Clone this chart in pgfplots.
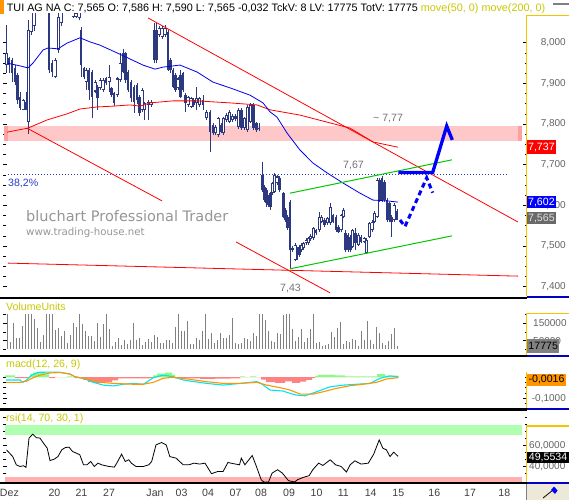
\documentclass[border=0pt]{standalone}
\usepackage{fontspec}
\setmainfont{Liberation Sans}
\newfontfamily\dejavu{DejaVu Sans}
\usepackage{pgfplots}
\usepackage{pgfplotstable}
\pgfplotsset{compat=1.18}

\definecolor{candle}{RGB}{44,57,128}
\definecolor{maBlue}{RGB}{0,0,235}
\definecolor{trend}{RGB}{255,0,0}
\definecolor{chan}{RGB}{0,200,0}
\definecolor{pinkband}{RGB}{255,200,200}
\definecolor{pinkdark}{RGB}{255,160,160}
\definecolor{fibo}{RGB}{40,60,200}
\definecolor{lblgray}{RGB}{115,115,115}
\definecolor{wm}{RGB}{150,150,150}
\definecolor{ylw}{RGB}{200,200,0}
\definecolor{frameyl}{RGB}{245,195,0}
\definecolor{framebl}{RGB}{0,0,200}
\definecolor{volgray}{RGB}{128,128,128}
\definecolor{mcyan}{RGB}{0,230,240}
\definecolor{morange}{RGB}{255,150,0}
\definecolor{hgreen}{RGB}{130,255,130}
\definecolor{hred}{RGB}{255,130,130}
\definecolor{rsigreen}{RGB}{176,255,176}
\definecolor{rsired}{RGB}{255,176,176}
\definecolor{tickgray}{RGB}{100,100,100}
\definecolor{xlbl}{RGB}{64,64,64}
\definecolor{boxgray}{RGB}{105,105,105}
\definecolor{iconbg}{RGB}{236,233,216}

\newcommand{\ff}{\fontsize{10.6}{12.5}\selectfont}
\newcommand{\tf}{\fontsize{10}{12}\selectfont}

% filled (falling) candles: x low high bodybottom bodytop
\pgfplotstableread{
x lo hi bb bt
9 7.925 7.966 7.945 7.962
12 7.904 7.962 7.925 7.957
15 7.895 7.945 7.904 7.937
17.5 7.850 7.925 7.859 7.921
20 7.835 7.880 7.839 7.867
26 7.835 7.880 7.835 7.855
49 7.925 8.100 7.933 8.080
52 7.916 7.957 7.929 7.949
81 7.916 8.039 7.945 8.031
84 7.910 7.940 7.916 7.937
89 7.859 7.937 7.884 7.933
92 7.814 7.933 7.867 7.929
97.5 7.835 7.896 7.863 7.892
106 7.896 7.916 7.900 7.912
111.5 7.867 7.892 7.871 7.888
114 7.845 7.880 7.851 7.876
123 7.925 7.985 7.929 7.974
125.5 7.900 7.978 7.908 7.974
128 7.878 7.933 7.884 7.929
131 7.855 7.908 7.863 7.904
134 7.827 7.896 7.855 7.892
137 7.850 7.900 7.859 7.896
139.5 7.820 7.871 7.826 7.867
154 7.950 8.048 7.957 8.031
156.5 7.950 8.048 7.957 8.031
168 7.930 8.031 7.933 8.027
170.5 7.925 7.962 7.933 7.957
173 7.888 7.937 7.892 7.933
175.5 7.880 7.925 7.884 7.921
180.5 7.863 7.933 7.867 7.921
183 7.880 7.929 7.884 7.925
185.5 7.830 7.876 7.851 7.871
193.5 7.843 7.863 7.847 7.859
203 7.835 7.871 7.847 7.859
210 7.732 7.835 7.781 7.830
213 7.773 7.802 7.777 7.798
221 7.777 7.802 7.781 7.798
235.5 7.808 7.824 7.812 7.820
241.5 7.786 7.839 7.790 7.835
253.5 7.786 7.851 7.790 7.847
256.5 7.781 7.806 7.785 7.802
259 7.783 7.802 7.787 7.790
262.3 7.634 7.707 7.638 7.675
264.5 7.609 7.650 7.613 7.646
266.5 7.597 7.642 7.605 7.638
268.5 7.597 7.625 7.601 7.621
270.5 7.589 7.634 7.597 7.630
279.5 7.634 7.671 7.638 7.667
283.3 7.568 7.634 7.572 7.630
285.5 7.560 7.593 7.564 7.589
287.5 7.540 7.576 7.544 7.572
290 7.445 7.613 7.490 7.609
292.5 7.486 7.499 7.490 7.495
297 7.466 7.498 7.470 7.494
299.3 7.474 7.503 7.478 7.498
316 7.527 7.543 7.531 7.539
324.7 7.548 7.568 7.552 7.564
333 7.556 7.580 7.560 7.576
336 7.535 7.576 7.539 7.572
338.5 7.531 7.552 7.535 7.548
345.5 7.486 7.539 7.490 7.531
348 7.486 7.531 7.490 7.527
350.3 7.486 7.527 7.490 7.523
355.7 7.490 7.544 7.507 7.531
361 7.507 7.527 7.511 7.523
379.5 7.609 7.667 7.613 7.662
382 7.609 7.671 7.613 7.667
384.5 7.609 7.662 7.613 7.658
387 7.560 7.617 7.564 7.613
389.5 7.560 7.609 7.564 7.605
391.7 7.523 7.576 7.560 7.572
397 7.565 7.590 7.565 7.586
}\candF

% hollow (rising) candles
\pgfplotstableread{
x lo hi bb bt
6.7 7.925 8.044 7.945 7.974
23 7.835 7.862 7.835 7.859
28.5 7.776 8.056 7.806 8.031
31 8.020 8.090 8.027 8.080
34 8.030 8.100 8.040 8.090
55 7.912 7.962 7.916 7.957
58.5 7.975 8.090 7.982 8.064
61 8.040 8.100 8.048 8.090
73 8.060 8.090 8.064 8.080
76 8.060 8.080 8.064 8.072
79 8.055 8.090 8.060 8.080
86 7.884 7.937 7.904 7.933
95 7.876 7.908 7.880 7.904
100 7.884 7.912 7.888 7.908
103 7.880 7.912 7.884 7.908
109 7.880 7.945 7.904 7.916
117 7.867 7.916 7.871 7.912
120 7.904 7.974 7.908 7.949
142 7.830 7.888 7.835 7.884
144.5 7.810 7.855 7.835 7.851
148 7.810 7.859 7.847 7.855
151 7.843 7.859 7.847 7.855
159 8.015 8.040 8.019 8.035
162 8.010 8.040 8.015 8.035
165 8.015 8.044 8.019 8.035
178 7.884 7.916 7.888 7.912
188 7.843 7.870 7.847 7.866
191 7.839 7.867 7.843 7.863
196.5 7.835 7.892 7.851 7.863
199.5 7.843 7.867 7.847 7.863
206.5 7.810 7.835 7.814 7.830
215.5 7.773 7.798 7.777 7.793
218 7.769 7.818 7.773 7.814
223.5 7.773 7.818 7.777 7.814
226.5 7.806 7.826 7.810 7.822
229.5 7.802 7.835 7.806 7.830
232.5 7.806 7.824 7.810 7.820
238.5 7.789 7.839 7.793 7.835
244.5 7.786 7.818 7.790 7.814
247.5 7.781 7.847 7.785 7.843
250.5 7.802 7.851 7.806 7.847
272.3 7.626 7.658 7.630 7.654
274.5 7.630 7.679 7.634 7.675
277 7.650 7.675 7.654 7.671
295 7.462 7.507 7.466 7.503
301.3 7.486 7.507 7.490 7.503
303.7 7.490 7.511 7.494 7.507
306 7.503 7.519 7.507 7.515
308.3 7.503 7.523 7.507 7.519
310.5 7.513 7.529 7.517 7.525
313.3 7.515 7.548 7.519 7.544
319.3 7.535 7.584 7.539 7.572
321.7 7.556 7.576 7.560 7.572
327.7 7.552 7.572 7.556 7.568
330.3 7.552 7.606 7.556 7.597
341 7.535 7.580 7.539 7.576
343.3 7.568 7.593 7.572 7.589
352.7 7.494 7.543 7.498 7.539
358.3 7.499 7.531 7.503 7.527
364 7.507 7.523 7.511 7.519
366.7 7.480 7.519 7.484 7.515
369.7 7.519 7.560 7.523 7.556
372 7.535 7.564 7.539 7.560
374.3 7.556 7.585 7.560 7.581
377 7.568 7.667 7.572 7.662
394 7.560 7.605 7.564 7.601
}\candH

\pgfplotsset{
  panel/.style={
    scale only axis, anchor=north west, width=524pt,
    xmin=3, xmax=527,
    axis line style={draw=none},
    xtick=\empty,
    tick align=inside,
    major tick length=4pt, minor tick length=2.5pt,
    every tick/.style={black, line width=0.7pt},
    yticklabel pos=right,
    /pgf/number format/assume math mode=true,
    scaled y ticks=false,
  }
}

\begin{document}
\begin{tikzpicture}
\useasboundingbox (0,0) rectangle (569pt,-500pt);
\fill[white] (0,0) rectangle (569pt,-500pt);

% title bar
\fill[morange] (0,0) rectangle (4.4pt,-14pt);
\draw[gray, line width=2pt] (553pt,-4.5pt) -- (569pt,-4.5pt);
\node[anchor=base west, inner sep=0pt, font=\fontsize{10.8}{12.5}\selectfont] at (6.7pt,-11.7pt)
  {TUI AG NA C: 7,565 O: 7,586 H: 7,590 L: 7,565 -0,032 TckV: 8 LV: 17775 TotV: 17775 \textcolor{ylw}{move(50, 0) move(200, 0)}};

% watermark
\node[anchor=base west, inner sep=0pt, text=wm, font=\dejavu\fontsize{14.5}{16}\selectfont] at (26pt,-221.7pt) {bluchart Professional Trader};
\node[anchor=base west, inner sep=0pt, text=wm, font=\dejavu\fontsize{10.2}{12}\selectfont] at (26pt,-235pt) {www.trading-house.net};

% ================= main price panel =================
\begin{axis}[panel, at={(3pt,-14pt)}, height=282.5pt,
  ymin=7.3759, ymax=8.0706,
  ytick={7.4,7.5,7.6,7.7,7.8,7.9,8.0}, minor y tick num=3,
  y tick label style={font=\tf, text=tickgray, inner sep=0pt, anchor=east, xshift=39pt,
    /pgf/number format/.cd, fixed, fixed zerofill, precision=3, use comma}]
  \fill[pinkband] (axis cs:4,7.759) rectangle (axis cs:521.7,7.795);
  \fill[pinkdark] (axis cs:4,7.759) rectangle (axis cs:8.3,7.795);
  \fill[pinkdark] (axis cs:517.7,7.759) rectangle (axis cs:521.7,7.795);
  % candles
  \addplot[candle, line width=0.9pt, quiver={u=0, v=\thisrow{hi}-\thisrow{lo}}] table[x=x, y=lo] {\candF};
  \addplot[candle, line width=0.9pt, quiver={u=0, v=\thisrow{hi}-\thisrow{lo}}] table[x=x, y=lo] {\candH};
  \addplot[candle, line width=2.8pt, quiver={u=0, v=\thisrow{bt}-\thisrow{bb}}] table[x=x, y=bb] {\candF};
  \addplot[candle, line width=3pt, quiver={u=0, v=\thisrow{bt}-\thisrow{bb}}] table[x=x, y=bb] {\candH};
  \addplot[white, line width=1.1pt, quiver={u=0, v={max(\thisrow{bt}-\thisrow{bb}-0.005,0)}}] table[x=x, y expr=\thisrow{bb}+0.0025] {\candH};
  % fibonacci level
  \addplot[fibo, line width=0.9pt, dash pattern=on 1pt off 2pt] coordinates {(8,7.677) (508,7.677)};
  % trend lines
  \addplot[trend, line width=0.8pt] coordinates {(27,7.790) (162,7.611)};
  \addplot[trend, line width=0.8pt] coordinates {(148,8.061) (518,7.559)};
  \addplot[trend, line width=0.8pt] coordinates {(236,7.510) (330,7.385)};
  \addplot[trend, line width=0.8pt] coordinates {(8,7.458) (518,7.426)};
  % moving average 200
  \addplot[trend, line width=0.8pt] coordinates {(7,7.780) (28,7.790) (47,7.810) (67,7.825) (80,7.837) (97,7.842) (113,7.844) (130,7.847) (140,7.844) (150,7.852) (173,7.857) (197,7.857) (230,7.852) (257,7.847) (270,7.835) (300,7.822) (350,7.790) (373,7.756) (398,7.743)};
  % moving average 50
  \addplot[maBlue, line width=0.8pt] coordinates {(7,7.950) (20,7.943) (28,7.938) (33,7.950) (43,7.982) (48,7.987) (58,7.985) (67,7.999) (80,8.012) (90,8.002) (100,7.994) (117,7.975) (130,7.960) (143,7.945) (155,7.935) (163,7.940) (180,7.945) (197,7.928) (213,7.903) (230,7.889) (250,7.871) (263,7.852) (270,7.830) (277,7.817) (287,7.778) (300,7.736) (313,7.704) (327,7.680) (343,7.655) (360,7.630) (373,7.613) (387,7.611) (398,7.608)};
  % channel
  \addplot[chan, line width=1pt] coordinates {(290,7.630) (452,7.712)};
  \addplot[chan, line width=1pt] coordinates {(290,7.444) (452,7.525)};
  % forecast arrows
  \addplot[blue, line width=3pt, dash pattern=on 5pt off 3.5pt] coordinates {(400,7.564) (405,7.548) (426.7,7.668) (432.7,7.631)};
  \addplot[blue, line width=3.3pt] coordinates {(398.3,7.681) (432.7,7.681) (446.7,7.795) (452.3,7.761)};
\end{axis}

% ================= volume panel =================
\begin{axis}[panel, at={(3pt,-299pt)}, height=55.5pt,
  ymin=-30160, ymax=291740,
  ytick={50000,150000}, minor ytick={0,100000,200000},
  y tick label style={font=\tf, text=tickgray, inner sep=0pt, anchor=west, xshift=6pt,
    /pgf/number format/.cd, fixed, precision=0, 1000 sep={}}]
  \addplot[ycomb, volgray, line width=1pt] table[row sep=\\, x expr=7.3+3*\coordindex, y=v] {
v\\ 204700\\ 44700\\ 154900\\ 67900\\ 67900\\ 135100\\ 204700\\ 204700\\ 204700\\ 174000\\
123500\\ 44700\\ 82900\\ 204700\\ 204700\\ 204700\\ 114300\\ 123500\\ 77100\\ 104400\\
38900\\ 82900\\ 154900\\ 127600\\ 204700\\ 146700\\ 104400\\ 77100\\ 77100\\ 50500\\
154900\\ 69600\\ 145000\\ 204700\\ 116000\\ 21500\\ 42300\\ 67900\\ 27300\\ 56300\\
33100\\ 53900\\ 154900\\ 53900\\ 67900\\ 23200\\ 44700\\ 62100\\ 44700\\ 82900\\
73700\\ 38900\\ 38900\\ 53900\\ 53900\\ 38900\\ 127600\\ 204700\\ 108500\\ 108500\\
166500\\ 30700\\ 30700\\ 67900\\ 53900\\ 106100\\ 204700\\ 59700\\ 94500\\ 36500\\
53900\\ 94500\\ 65500\\ 65500\\ 82900\\ 181500\\ 36500\\ 30700\\ 36500\\ 65500\\
59700\\ 48100\\ 94500\\ 77100\\ 204700\\ 204700\\ 169900\\ 106100\\ 48100\\ 42300\\
94500\\ 88700\\ 198900\\ 204700\\ 204700\\ 117700\\ 48100\\ 71300\\ 117700\\ 42300\\
65500\\ 117700\\ 204700\\ 36500\\ 42300\\ 19100\\ 24900\\ 30700\\ 100300\\ 71300\\
123500\\ 158300\\ 30700\\ 48100\\ 42300\\ 59700\\ 53900\\ 19100\\ 106100\\ 53900\\
164100\\ 53900\\ 30700\\ 129300\\ 94500\\ 36500\\ 24900\\ 48100\\ 88700\\ 123500\\
19100\\
};
\end{axis}

% ================= MACD panel =================
\begin{axis}[panel, at={(3pt,-357pt)}, height=51.3pt,
  ymin=-0.1469, ymax=0.0939,
  ytick={-0.1}, minor ytick={-0.125,-0.075,-0.05,-0.025,0},
  y tick label style={font=\tf, text=tickgray, inner sep=0pt, anchor=west, xshift=4.7pt,
    /pgf/number format/.cd, fixed, fixed zerofill, precision=4, use comma}]
  \addplot[const plot, fill=hgreen, draw=none] coordinates {(5,0.008) (15,0) (30,0.014) (33,0.020) (45,0.012) (49,0) (67,0.003) (72,0) (153,0.008) (157,0.016) (165,0.020) (172,0.010) (175,0) (240,0.003) (245,0) (250,0.003) (256,0) (315,0.005) (318,0.010) (335,0.008) (345,0.003) (377,0.014) (385,0.006) (398.3,0.006)} \closedcycle;
  \addplot[const plot, fill=hred, draw=none] coordinates {(5,0) (15,-0.005) (28,0) (49,-0.005) (55,0) (75,-0.005) (83,-0.014) (88,-0.024) (95,-0.027) (105,-0.024) (112,-0.016) (118,-0.006) (150,-0.004) (153,0) (175,-0.006) (200,-0.009) (215,-0.008) (230,-0.006) (240,0) (261,-0.012) (266,-0.024) (275,-0.027) (285,-0.020) (292,-0.027) (300,-0.022) (306,-0.013) (312,-0.005) (315,0) (398.3,0)} \closedcycle;
  \addplot[mcyan, line width=1.1pt] coordinates {(6,-0.014) (20,-0.014) (22.7,-0.025) (26.7,-0.014) (31.7,0.009) (38.3,0.022) (50,0.023) (60,0.022) (70,0.014) (75,0.001) (83.3,-0.006) (93.3,-0.025) (103.3,-0.038) (113.3,-0.042) (123.3,-0.034) (133.3,-0.030) (143.3,-0.034) (148.3,-0.019) (153.3,-0.003) (163.3,0.009) (173.3,0.001) (183.3,-0.014) (190,-0.019) (206.7,-0.030) (223.3,-0.038) (240,-0.030) (256.7,-0.022) (261,-0.030) (270,-0.061) (283.3,-0.066) (290,-0.077) (296.7,-0.085) (305,-0.088) (310,-0.080) (316.7,-0.069) (330,-0.046) (343.3,-0.038) (356.7,-0.034) (370,-0.030) (380,-0.006) (390,0.005) (398.3,0.001)};
  \addplot[morange, line width=1.1pt] coordinates {(6,-0.025) (20,-0.025) (26.7,-0.019) (33.3,-0.003) (40,0.009) (50,0.019) (60,0.021) (70,0.014) (75,0.001) (86.7,-0.009) (100,-0.025) (113.3,-0.030) (133.3,-0.034) (143.3,-0.034) (153.3,-0.025) (163.3,-0.006) (173.3,-0.001) (186.7,-0.009) (190,-0.011) (206.7,-0.022) (223.3,-0.030) (240,-0.030) (256.7,-0.025) (266.7,-0.038) (280,-0.050) (290,-0.061) (300,-0.080) (313.3,-0.080) (323.3,-0.069) (336.7,-0.053) (350,-0.041) (363.3,-0.034) (376.7,-0.025) (386.7,-0.009) (398.3,-0.003)};
\end{axis}

% ================= RSI panel =================
\begin{axis}[panel, at={(3pt,-411pt)}, height=70.7pt,
  ymin=25.24, ymax=92.86,
  ytick={40,60}, minor ytick={33.33,46.67,53.33,66.67,73.33,80,86.67},
  xtick={9.4,54.5,81.5,109,155,181.5,208,235.5,261,289,316.5,343.3,370.7,398.3,434.3,470,504.3},
  xticklabels={Dez,20,21,27,Jan,03,04,07,08,09,10,11,14,15,16,17,18},
  xtick style={draw=none},
  x tick label style={font=\ff, text=xlbl, inner sep=0pt, anchor=north, yshift=-7pt},
  y tick label style={font=\tf, text=tickgray, inner sep=0pt, anchor=west, xshift=2pt,
    /pgf/number format/.cd, fixed, fixed zerofill, precision=4, use comma}]
  \fill[rsigreen] (axis cs:5,70) rectangle (axis cs:521.7,79);
  \fill[rsired] (axis cs:5,25.24) rectangle (axis cs:521.7,30);
  \addplot[black, line width=0.8pt] coordinates {(6.5,55.7) (12.7,49.3) (16.3,41.4) (20,39.8) (23.6,40.5) (26,38.9) (29,66.9) (32.7,70.7) (36.3,67.4) (40,66.9) (43.5,62.1) (47.2,57.3) (50,45.5) (54.4,46.9) (58,49.3) (61.7,55.7) (65.3,57.9) (69,58.3) (72.6,54.1) (76.2,52.6) (79.8,51.0) (83.5,41.4) (87,41.4) (90.7,44.6) (94.3,39.8) (98,43.0) (101.6,41.4) (108.9,39.8) (114.3,39.2) (116.8,43.0) (121.6,51.6) (125.2,44.6) (128.8,46.2) (131.3,43.0) (136,39.8) (143.3,39.8) (148.8,41.4) (151.7,44.6) (156,60.5) (161.5,62.7) (166.2,60.5) (169.8,49.3) (176,47.8) (179.6,44.6) (183.2,41.4) (188.7,41.4) (194.1,43.0) (199.6,42.1) (205,43.0) (211.5,32.9) (217.7,35.0) (223.1,35.0) (227.9,43.6) (234,42.4) (239.5,41.4) (241.3,47.8) (244.9,41.4) (252.2,50.3) (255.8,41.4) (261.2,27.1) (263.8,25.0) (268.5,25.0) (272.1,33.5) (277.6,36.7) (282.3,33.5) (288.5,26.2) (294.6,25.0) (297.5,27.1) (303,29.3) (309.1,31.0) (312.8,36.7) (318.6,43.0) (322.9,40.8) (330.2,46.2) (335.6,41.4) (341.1,39.8) (346.5,34.5) (350.1,41.4) (354.9,45.2) (361,42.1) (368.3,43.0) (373.7,51.6) (379.2,65.2) (382.8,57.3) (386.4,55.7) (390,49.3) (393.7,53.5) (398,49.55)};
\end{axis}

% annotations on the price panel
\node[anchor=base west, inner sep=0pt, text=fibo, font=\ff] at (8pt,-186.5pt) {38,2\%};
\node[anchor=base west, inner sep=0pt, text=lblgray, font=\ff] at (373pt,-121.7pt) {\textasciitilde\ 7,77};
\node[anchor=base west, inner sep=0pt, text=lblgray, font=\ff] at (343pt,-168.3pt) {7,67};
\node[anchor=base west, inner sep=0pt, text=lblgray, font=\ff] at (280pt,-291pt) {7,43};

% panel captions
\node[anchor=base west, inner sep=0pt, text=ylw, font=\ff] at (6pt,-310.7pt) {VolumeUnits};
\node[anchor=base west, inner sep=0pt, text=ylw, font=\ff] at (6pt,-367pt) {macd(12, 26, 9)};
\node[anchor=base west, inner sep=0pt, text=ylw, font=\ff] at (6pt,-421.5pt) {rsi(14, 70, 30, 1)};

% separators
\fill[black] (0,-296.5pt) rectangle (526.5pt,-299pt);
\fill[black] (0,-354.5pt) rectangle (526.5pt,-357pt);
\fill[black] (0,-408.3pt) rectangle (526.5pt,-410.7pt);
\fill[black] (0,-481.7pt) rectangle (526.5pt,-484.2pt);

% right-hand frames
\draw[frameyl, line width=1.2pt] (569pt,-15.5pt) -- (526.5pt,-15.5pt) -- (526.5pt,-296pt);
\draw[framebl, line width=2pt] (526.5pt,-297pt) -- (569pt,-297pt);
\draw[frameyl, line width=1.2pt] (569pt,-313.5pt) -- (526.5pt,-313.5pt) -- (526.5pt,-354.5pt);
\draw[framebl, line width=2pt] (526.5pt,-355.5pt) -- (569pt,-355.5pt);
\draw[frameyl, line width=1.2pt] (526.5pt,-372pt) -- (526.5pt,-408pt);
\draw[framebl, line width=2pt] (526.5pt,-409pt) -- (569pt,-409pt);
\draw[frameyl, line width=1.2pt] (569pt,-426pt) -- (526.5pt,-426pt) -- (526.5pt,-481.7pt);
\draw[framebl, line width=2pt] (526.5pt,-482.7pt) -- (569pt,-482.7pt);

% value boxes
\node[anchor=west, fill=red, text=white, inner sep=0pt, minimum width=29pt, minimum height=14pt, font=\ff] at (526.7pt,-147pt) {7,737};
\node[anchor=west, fill=blue, text=white, inner sep=0pt, minimum width=29pt, minimum height=12.3pt, font=\ff] at (526.7pt,-202pt) {7,602};
\node[anchor=west, fill=boxgray, text=white!88!black, inner sep=0pt, minimum width=29pt, minimum height=11.7pt, font=\ff] at (526.7pt,-218.2pt) {7,565};
\node[anchor=west, fill=volgray, text=black, inner sep=0pt, minimum width=32pt, minimum height=14pt, font=\ff] at (527pt,-346pt) {17775};
\node[anchor=west, fill=morange, text=black, inner sep=0pt, minimum width=39.3pt, minimum height=11.7pt, font=\ff] at (526.7pt,-379.8pt) {-0,0016};
\node[anchor=west, fill=black, text=white, inner sep=0pt, minimum width=42.3pt, minimum height=11.6pt, font=\ff] at (526.7pt,-457.5pt) {49,5534};

% bottom-right icon
\fill[iconbg] (526.5pt,-484.2pt) rectangle (569pt,-500pt);
\draw[gray, line width=0.8pt] (526.5pt,-484.2pt) -- (526.5pt,-500pt);
\draw[black, line width=0.8pt] (543pt,-498pt) -- (553pt,-490pt);
\fill[blue] (551pt,-490pt) -- (554pt,-486.5pt) -- (557.5pt,-490.5pt) -- (555pt,-494pt) -- cycle;
\end{tikzpicture}
\end{document}
